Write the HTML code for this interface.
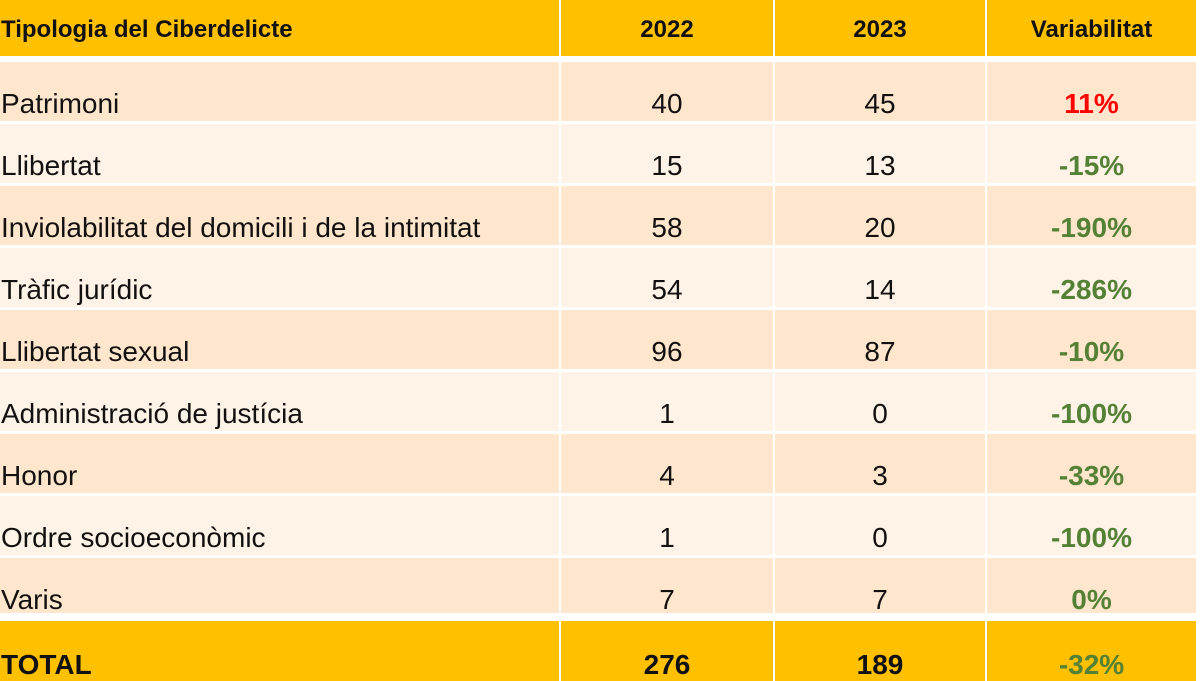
<!DOCTYPE html>
<html><head><meta charset="utf-8"><style>
body{margin:0;width:1200px;height:675px;overflow:hidden;background:#fff;font-family:"Liberation Sans",Arial,sans-serif;position:relative}
.r{position:absolute;left:0;width:1198px}
.c{position:absolute;top:0;bottom:0;border-right:2px solid #fff;box-sizing:border-box}
.t{position:absolute;left:0;right:0;font-size:28px;line-height:30px;color:#111;white-space:nowrap}
.g{color:#538135;font-weight:bold}
.red{color:#f00;font-weight:bold}
</style></head><body>
<div id="rows"></div>
<script>
const data=[["Patrimoni","40","45","11%"],["Llibertat","15","13","-15%"],["Inviolabilitat del domicili i de la intimitat","58","20","-190%"],["Tràfic jurídic","54","14","-286%"],["Llibertat sexual","96","87","-10%"],["Administració de justícia","1","0","-100%"],["Honor","4","3","-33%"],["Ordre socioeconòmic","1","0","-100%"],["Varis","7","7","0%"]];
const cols=[[0,561],[561,775],[775,987],[987,1198]];
let h='';
function row(top,height,bg,vals,ty,bold,fs){
 h+=`<div class="r" style="top:${top}px;height:${height}px;background:${bg}">`;
 vals.forEach((v,i)=>{let st=i==0?'text-align:left;padding-left:1px':'text-align:center';
  let vc=v[1]||'';h+=`<div class="c" style="left:${cols[i][0]}px;width:${cols[i][1]-cols[i][0]}px"><div class="t ${vc}" style="top:${ty}px;${st};${bold?'font-weight:bold;':''}${fs?'font-size:'+fs+'px':''}">${v[0]}</div></div>`;});
 h+='</div>';
}
row(0,56,'#ffc000',[["Tipologia del Ciberdelicte"],["2022"],["2023"],["Variabilitat"]],15,true,24);
data.forEach((d,i)=>{
 let top=62+i*62;
 row(top,i==8?55:59,i%2?'#fff2e6':'#ffe6cc',[[d[0]],[d[1]],[d[2]],[d[3],i==0?'red':'g']],27,false);
});
row(621,60,'#ffc000',[["TOTAL"],["276"],["189"],["-32%","g"]],29,true);
document.getElementById('rows').innerHTML=h;
</script>
</body></html>
